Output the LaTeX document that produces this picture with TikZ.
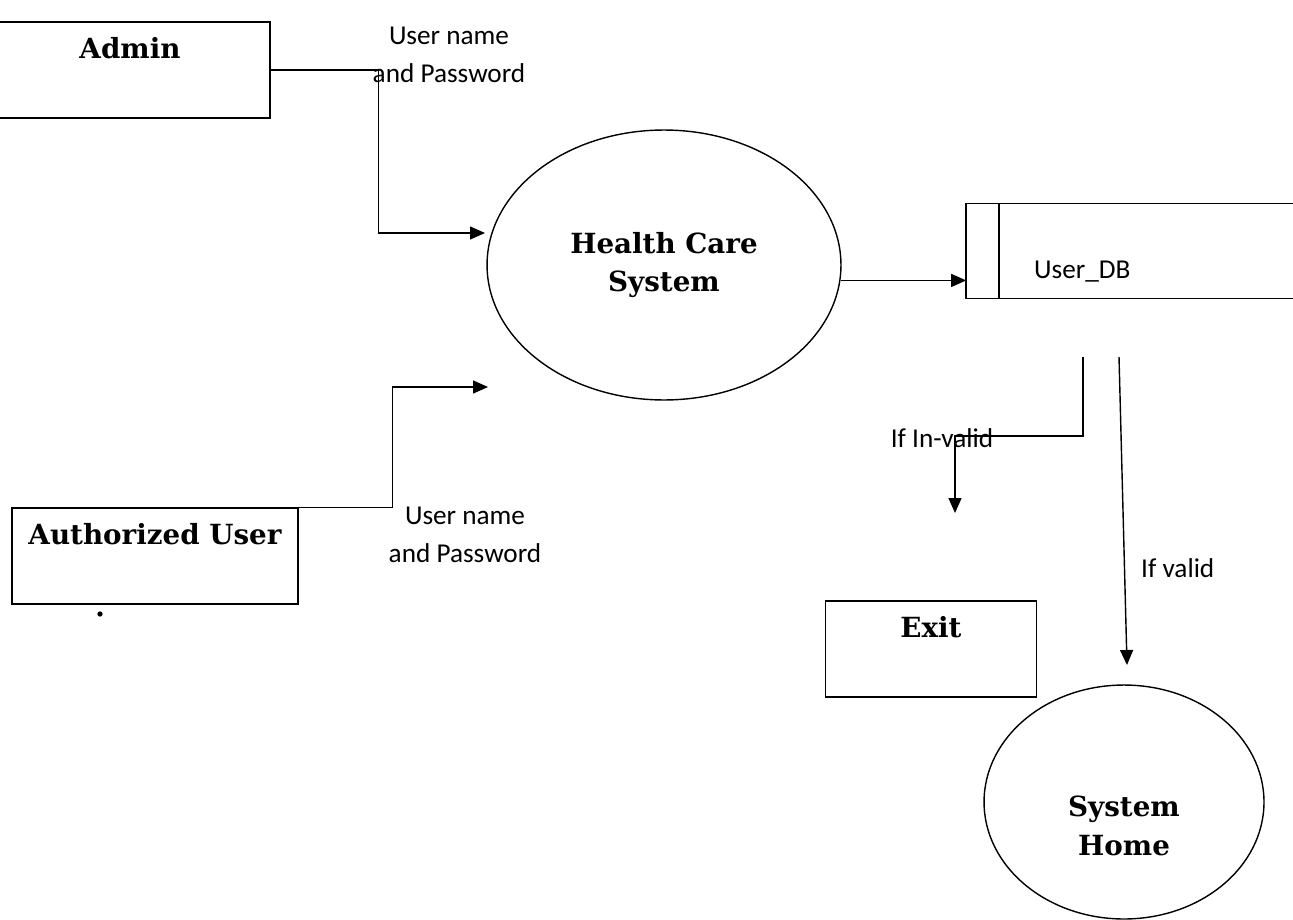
\documentclass[tikz,border=0pt]{standalone}
\usepackage{fontspec}
\setmainfont{DejaVu Serif}
\newfontfamily\lblfont{Carlito}
\usetikzlibrary{arrows.meta,shapes.geometric}

\tikzset{
  box/.style={draw, rectangle, line width=0.8pt, inner xsep=0pt, inner ysep=0pt,
    text height=0.72cm, text depth=1.2cm, font=\bfseries\fontsize{15.8}{21}\selectfont},
  proc/.style={draw, ellipse, line width=0.8pt, inner sep=0pt, align=center,
    font=\bfseries\fontsize{15.8}{22}\selectfont},
  lbl/.style={align=center, font=\lblfont\fontsize{15.5}{21.5}\selectfont},
  flow/.style={line width=0.8pt, -{Triangle[length=0.3cm,width=0.26cm]}},
}

\begin{document}
\begin{tikzpicture}[x=0.02cm, y=-0.02cm]
    \useasboundingbox (0,0) rectangle (1293,919);

    % external entities
    \node[box, minimum width=5.6cm] (admin) at (130,70) {Admin};
    \node[box, minimum width=5.72cm] (auth) at (155,556) {Authorized User};
    \node[box, minimum width=4.22cm] (exit) at (931,649) {Exit};
    \fill (100,614) circle (1.5pt);

    % processes
    \node[proc, minimum width=7.08cm, minimum height=5.4cm] (hcs) at (664,265) {Health Care\\System};
    \node[proc, minimum width=5.6cm, minimum height=4.68cm,
      label={[proc, draw=none, yshift=-0.48cm]center:System\\Home}] (home) at (1124,802) {};

    % data store
    \node[minimum width=6.66cm, minimum height=1.88cm, inner sep=0pt] (db) at (1133,251) {};
    \draw[line width=0.8pt] (db.north east) -- (db.north west) -- (db.south west) -- (db.south east);
    \draw[line width=0.8pt] ([xshift=0.66cm]db.north west) -- ([xshift=0.66cm]db.south west);
    \node[lbl, anchor=west] (dbname) at (1028,272) {User\_DB};

    % free ends
    \coordinate (in1) at (485,233);
    \coordinate (in2) at (488,387);
    \coordinate (out1) at (1083,357);
    \coordinate (out2) at (1119,357);
    \coordinate (invend) at (955,513);
    \coordinate (valend) at (1127,665);

    % flows
    \draw[flow] (admin.east) -- ++(108,0) |- (in1);
    \draw[flow] (auth.north east) -- ++(94,0) |- (in2);
    \draw[flow] (hcs.-5) -- (hcs.-5 -| db.west);
    \draw[flow] (out1) |- (invend |- 0,436) -- (invend);
    \draw[flow] (out2) -- (valend);

    % labels
    \node[lbl] (cred1) at (449,55) {User name\\and Password};
    \node[lbl] (cred2) at (465,535) {User name\\and Password};
    \node[lbl] (invalid) at (942,438) {If In-valid};
    \node[lbl, anchor=west] (valid) at (1135,568) {If valid};
\end{tikzpicture}
\end{document}
